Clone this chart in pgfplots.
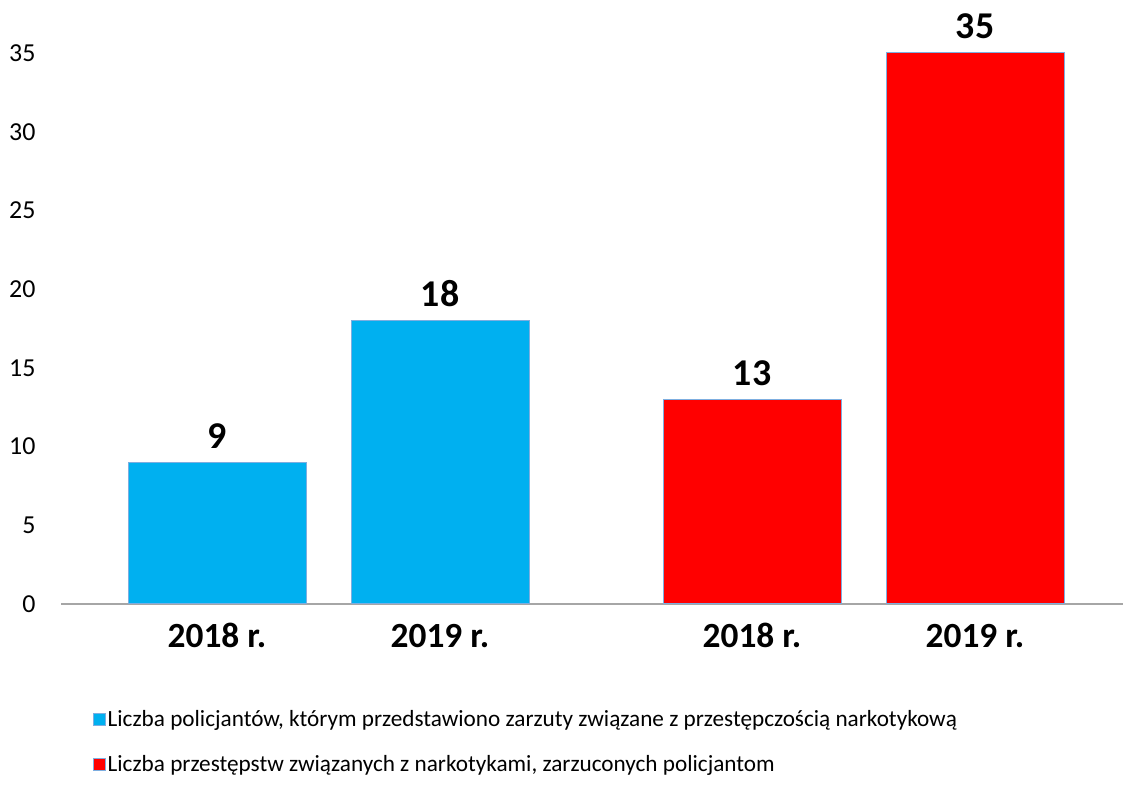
\documentclass[border=0pt]{standalone}
\usepackage{fontspec}
\setmainfont{Carlito}
\usepackage{pgfplots}
\pgfplotsset{compat=1.18}

\definecolor{cyanbar}{HTML}{00B0F0}
\definecolor{redbar}{HTML}{FF0000}
\definecolor{baredge}{HTML}{7DAEE0}
\definecolor{gridgray}{HTML}{A6A6A6}

\begin{document}
\begin{tikzpicture}
  \useasboundingbox (0,0) rectangle (1123bp,811bp);
  \begin{axis}[
    at={(61bp,207bp)}, anchor=south west,
    scale only axis, width=1062bp, height=551bp,
    xmin=61, xmax=1123, ymin=0, ymax=35,
    clip=false,
    ybar, bar width=178, bar shift=0pt,
    axis y line=none, axis x line*=bottom,
    axis line style={gridgray, line width=1.2bp, -},
    ytick={0,5,...,35},
    ymajorgrids, grid style={gridgray, line width=1.2bp},
    major tick length=0pt,
    xtick={217,440,752,975},
    xticklabels={2018 r.,2019 r.,2018 r.,2019 r.},
    xticklabel style={font=\fontsize{35.5}{40}\selectfont\bfseries, anchor=base, yshift=-43bp},
    /pgf/number format/assume math mode=true,
    every node near coord/.append style={font=\fontsize{38}{44}\selectfont\bfseries, anchor=base, yshift=14bp},
    nodes near coords,
    legend style={at={(0.027,-0.185)}, anchor=north west, draw=none,
      font=\fontsize{23.3}{26}\selectfont, row sep=24bp,
      legend cell align=left},
    legend image code/.code={
      \draw[#1, draw=baredge, line width=0.8bp] (0bp,-6bp) rectangle (12bp,6bp);},
  ]
    % y tick labels as nodes, in the text font
    \pgfplotsinvokeforeach{0,5,...,35}{
      \node[anchor=east, font=\fontsize{26}{30}\selectfont] at (axis cs:61,#1) [xshift=-22bp] {#1};
    }
    \addplot[fill=cyanbar, draw=baredge, line width=1bp] coordinates {(217,9)};
    \addlegendentry{Liczba policjantów, którym przedstawiono zarzuty związane z przestępczością narkotykową}
    \addplot[fill=cyanbar, draw=baredge, line width=1bp, forget plot] coordinates {(440,18)};
    \addplot[fill=redbar, draw=baredge, line width=1bp] coordinates {(752,13)};
    \addlegendentry{Liczba przestępstw związanych z narkotykami, zarzuconych policjantom}
    \addplot[fill=redbar, draw=baredge, line width=1bp, forget plot] coordinates {(975,35)};
  \end{axis}
\end{tikzpicture}
\end{document}
